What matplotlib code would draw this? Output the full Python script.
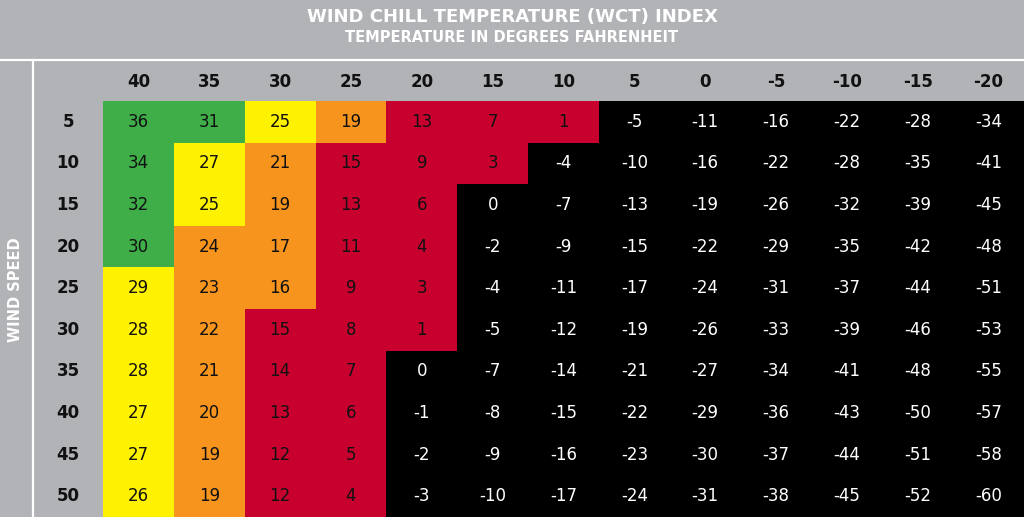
import numpy as np
import matplotlib
matplotlib.use("Agg")
import matplotlib.pyplot as plt
from matplotlib.colors import ListedColormap, BoundaryNorm
from matplotlib.lines import Line2D
from matplotlib import transforms

# ---------------- data ----------------
temps = [40, 35, 30, 25, 20, 15, 10, 5, 0, -5, -10, -15, -20]
winds = [5, 10, 15, 20, 25, 30, 35, 40, 45, 50]
wct = [
    [36, 31, 25, 19, 13, 7, 1, -5, -11, -16, -22, -28, -34],
    [34, 27, 21, 15, 9, 3, -4, -10, -16, -22, -28, -35, -41],
    [32, 25, 19, 13, 6, 0, -7, -13, -19, -26, -32, -39, -45],
    [30, 24, 17, 11, 4, -2, -9, -15, -22, -29, -35, -42, -48],
    [29, 23, 16, 9, 3, -4, -11, -17, -24, -31, -37, -44, -51],
    [28, 22, 15, 8, 1, -5, -12, -19, -26, -33, -39, -46, -53],
    [28, 21, 14, 7, 0, -7, -14, -21, -27, -34, -41, -48, -55],
    [27, 20, 13, 6, -1, -8, -15, -22, -29, -36, -43, -50, -57],
    [27, 19, 12, 5, -2, -9, -16, -23, -30, -37, -44, -51, -58],
    [26, 19, 12, 4, -3, -10, -17, -24, -31, -38, -45, -52, -60],
]
title = "WIND CHILL TEMPERATURE (WCT) INDEX"
subtitle = "TEMPERATURE IN DEGREES FAHRENHEIT"
ylabel = "WIND SPEED"

# colour bands (value thresholds)
band_edges = [-100, 0.5, 15.5, 24.5, 29.5, 100]
band_colors = ["#000000", "#C8002E", "#F7941E", "#FFF200", "#3FAE49"]

GRAY = "#B1B3B6"
W, H = 1024, 517

fig = plt.figure(figsize=(W / 100, H / 100), dpi=100, facecolor=GRAY)
ax = fig.add_axes([103 / W, 0, (W - 103) / W, (H - 101) / H])
ax.set_facecolor(GRAY)

data = np.array(wct)
cmap = ListedColormap(band_colors)
norm = BoundaryNorm(band_edges, cmap.N)
ax.pcolormesh(np.arange(len(temps) + 1), np.arange(len(winds) + 1), data,
              cmap=cmap, norm=norm, shading="flat")
ax.set_xlim(0, len(temps))
ax.set_ylim(len(winds), 0)
ax.axis("off")

for i in range(len(winds)):
    for j in range(len(temps)):
        v = data[i, j]
        ax.text(j + 0.5, i + 0.5, f"{v}", ha="center", va="center",
                fontsize=12, color="white" if v <= 0 else "#111111",
                family="DejaVu Sans")

# column headers
tr_x = transforms.blended_transform_factory(ax.transData, fig.transFigure)
for j, t in enumerate(temps):
    fig.text(j + 0.5, 1 - 82 / H, f"{t}", transform=tr_x, ha="center",
             va="center", fontsize=12, fontweight="bold", color="#111111")

# row labels
tr_y = transforms.blended_transform_factory(fig.transFigure, ax.transData)
for i, w in enumerate(winds):
    fig.text(68 / W, i + 0.5, f"{w}", transform=tr_y, ha="center",
             va="center", fontsize=12, fontweight="bold", color="#111111")

# titles
fig.text(0.5, 1 - 17 / H, title, ha="center", va="center", color="white",
         fontsize=13, fontweight="bold")
fig.text(0.5, 1 - 38 / H, subtitle, ha="center", va="center", color="white",
         fontsize=10.5, fontweight="bold")
fig.text(16 / W, 1 - 290 / H, ylabel, ha="center", va="center", color="white",
         fontsize=10.5, fontweight="bold", rotation=90)

# white separator lines
fig.add_artist(Line2D([0, 1], [1 - 59.5 / H, 1 - 59.5 / H],
                      transform=fig.transFigure, color="white", lw=1.6))
fig.add_artist(Line2D([32.5 / W, 32.5 / W], [0, 1 - 59.5 / H],
                      transform=fig.transFigure, color="white", lw=1.6))

fig.savefig("out.png", dpi=100, facecolor=GRAY)
